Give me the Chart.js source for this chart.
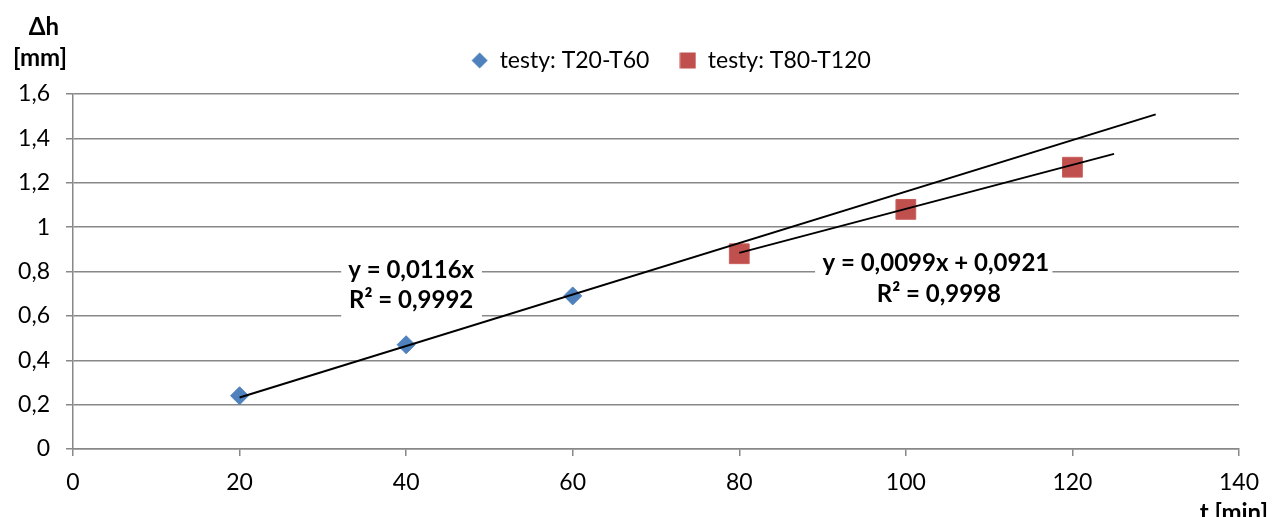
<!DOCTYPE html>
<html>
<head>
<meta charset="utf-8">
<script src="https://cdn.jsdelivr.net/npm/chart.js@4"></script>
<style>
  html, body { margin: 0; padding: 0; background: #fff; }
  #wrap { width: 1272px; height: 517px; }
</style>
</head>
<body>
<div id="wrap"><canvas id="wykres" width="1272" height="517"></canvas></div>
<script>
// === DANE ===
const czasT20T60 = [20, 40, 60];
const testyT20T60 = [0.24, 0.47, 0.69];
const czasT80T120 = [80, 100, 120];
const testyT80T120 = [0.88, 1.08, 1.27];

// linie trendu (końce)
const trend1X = [20, 130];
const trend1Y = [0.232, 1.508];
const trend2X = [80, 125];
const trend2Y = [0.884, 1.330];

const etykietyTrendu = [
  ['y = 0,0116x', 'R² = 0,9992'],
  ['y = 0,0099x + 0,0921', 'R² = 0,9998']
];

const ticksX = [0, 20, 40, 60, 80, 100, 120, 140];
const ticksY = [0, 0.2, 0.4, 0.6, 0.8, 1, 1.2, 1.4, 1.6];

const FONT = 'Lato, "Open Sans", sans-serif';
const NIEBIESKI = '#4F81BD';
const CZERWONY = '#C0504D';
const SZARY = '#888888';

function punkty(xs, ys) {
  return xs.map((x, i) => ({ x, y: ys[i] }));
}

// znaczniki legendy
function znacznik(typ) {
  const c = document.createElement('canvas');
  const s = 17;
  c.width = s; c.height = s;
  const g = c.getContext('2d');
  if (typ === 'romb') {
    g.fillStyle = NIEBIESKI;
    g.beginPath();
    g.moveTo(s / 2, 0.5); g.lineTo(s - 0.5, s / 2); g.lineTo(s / 2, s - 0.5); g.lineTo(0.5, s / 2);
    g.closePath(); g.fill();
  } else {
    g.fillStyle = CZERWONY;
    g.fillRect(0.5, 0.5, s - 1, s - 1);
  }
  return c;
}
const znakRomb = znacznik('romb');
const znakKwadrat = znacznik('kwadrat');

// === OPISY OSI I ETYKIETY TRENDU ===
const opisy = {
  id: 'opisy',
  afterLayout(chart) {
    // legenda lekko w prawo, jak w oryginale
    if (chart.legend) {
      chart.legend.left += 15;
      chart.legend.right += 15;
    }
  },
  beforeDatasetsDraw(chart) {
    const { ctx, scales: { x, y } } = chart;
    ctx.save();
    ctx.font = 'bold 24px ' + FONT;
    ctx.textAlign = 'center';
    ctx.textBaseline = 'middle';
    // etykieta 1
    let cx = x.getPixelForValue(40.6);
    let cy = y.getPixelForValue(0.807);
    ctx.fillStyle = '#fff';
    ctx.fillRect(x.getPixelForValue(32.2), cy - 22, x.getPixelForValue(49.1) - x.getPixelForValue(32.2), 72);
    ctx.fillStyle = '#000';
    ctx.fillText(etykietyTrendu[0][0], cx, cy);
    ctx.fillText(etykietyTrendu[0][1], cx, cy + 30);
    // etykieta 2
    cx = x.getPixelForValue(103.6);
    cy = y.getPixelForValue(0.835);
    ctx.fillStyle = '#fff';
    ctx.fillRect(x.getPixelForValue(89.1), cy - 20, x.getPixelForValue(117.6) - x.getPixelForValue(89.1), 66);
    ctx.fillStyle = '#000';
    ctx.fillText(etykietyTrendu[1][0], cx, cy);
    ctx.fillText(etykietyTrendu[1][1], cx + 3, cy + 31);
    ctx.restore();
  },
  afterDraw(chart) {
    const { ctx } = chart;
    ctx.save();
    ctx.font = 'bold 24px ' + FONT;
    ctx.fillStyle = '#000';
    ctx.textAlign = 'center';
    ctx.textBaseline = 'middle';
    ctx.fillText('Δh', 44, 27);
    ctx.fillText('[mm]', 40, 58);
    ctx.textAlign = 'right';
    ctx.fillText('t [min]', 1268, 513);
    ctx.restore();
  }
};

const ctx = document.getElementById('wykres').getContext('2d');
new Chart(ctx, {
  type: 'scatter',
  data: {
    datasets: [
      {
        label: 'testy: T20-T60',
        data: punkty(czasT20T60, testyT20T60),
        pointStyle: 'rectRot',
        pointRadius: 9,
        pointHoverRadius: 9,
        backgroundColor: NIEBIESKI,
        borderColor: NIEBIESKI,
        borderWidth: 1,
        order: 1
      },
      {
        label: 'testy: T80-T120',
        data: punkty(czasT80T120, testyT80T120),
        pointStyle: 'rect',
        pointRadius: 14,
        pointHoverRadius: 14,
        backgroundColor: CZERWONY,
        borderColor: '#C95F5C',
        borderWidth: 1,
        order: 1
      },
      {
        label: 'trend1',
        type: 'line',
        data: punkty(trend1X, trend1Y),
        borderColor: '#000',
        borderWidth: 2,
        pointRadius: 0,
        fill: false,
        order: 0
      },
      {
        label: 'trend2',
        type: 'line',
        data: punkty(trend2X, trend2Y),
        borderColor: '#000',
        borderWidth: 2,
        pointRadius: 0,
        fill: false,
        order: 0
      }
    ]
  },
  options: {
    responsive: false,
    animation: false,
    layout: { padding: { top: 19, right: 28, left: 0, bottom: 0 } },
    plugins: {
      tooltip: { enabled: false },
      // odstęp między legendą a wykresem
      subtitle: {
        display: true,
        text: '',
        weight: 500,
        font: { size: 5 },
        padding: { top: 3, bottom: 3 }
      },
      legend: {
        position: 'top',
        fullSize: false,
        labels: {
          font: { family: FONT, size: 23 },
          color: '#000',
          usePointStyle: true,
          boxWidth: 17,
          boxHeight: 17,
          padding: 30,
          generateLabels: () => [
            { text: 'testy: T20-T60', pointStyle: znakRomb, fillStyle: NIEBIESKI, strokeStyle: NIEBIESKI, lineWidth: 0, datasetIndex: 0 },
            { text: 'testy: T80-T120', pointStyle: znakKwadrat, fillStyle: CZERWONY, strokeStyle: CZERWONY, lineWidth: 0, datasetIndex: 1 }
          ]
        }
      }
    },
    scales: {
      x: {
        type: 'linear',
        min: 0,
        max: 140,
        afterBuildTicks: s => { s.ticks = ticksX.map(v => ({ value: v })); },
        afterFit: s => { s.height = 68; },
        grid: { drawOnChartArea: false, color: SZARY, tickLength: 7, lineWidth: 1.5 },
        border: { color: SZARY, width: 1.5 },
        ticks: { color: '#000', font: { family: FONT, size: 23 }, padding: 13 }
      },
      y: {
        min: 0,
        max: 1.6,
        afterBuildTicks: s => { s.ticks = ticksY.map(v => ({ value: v })); },
        afterFit: s => { s.width = 73; },
        grid: { color: SZARY, tickLength: 7, lineWidth: 1.5 },
        border: { color: SZARY, width: 1.5 },
        ticks: {
          color: '#000',
          font: { family: FONT, size: 23 },
          padding: 16,
          callback: v => String(Math.round(v * 10) / 10).replace('.', ',')
        }
      }
    }
  },
  plugins: [opisy]
});
</script>
</body>
</html>
